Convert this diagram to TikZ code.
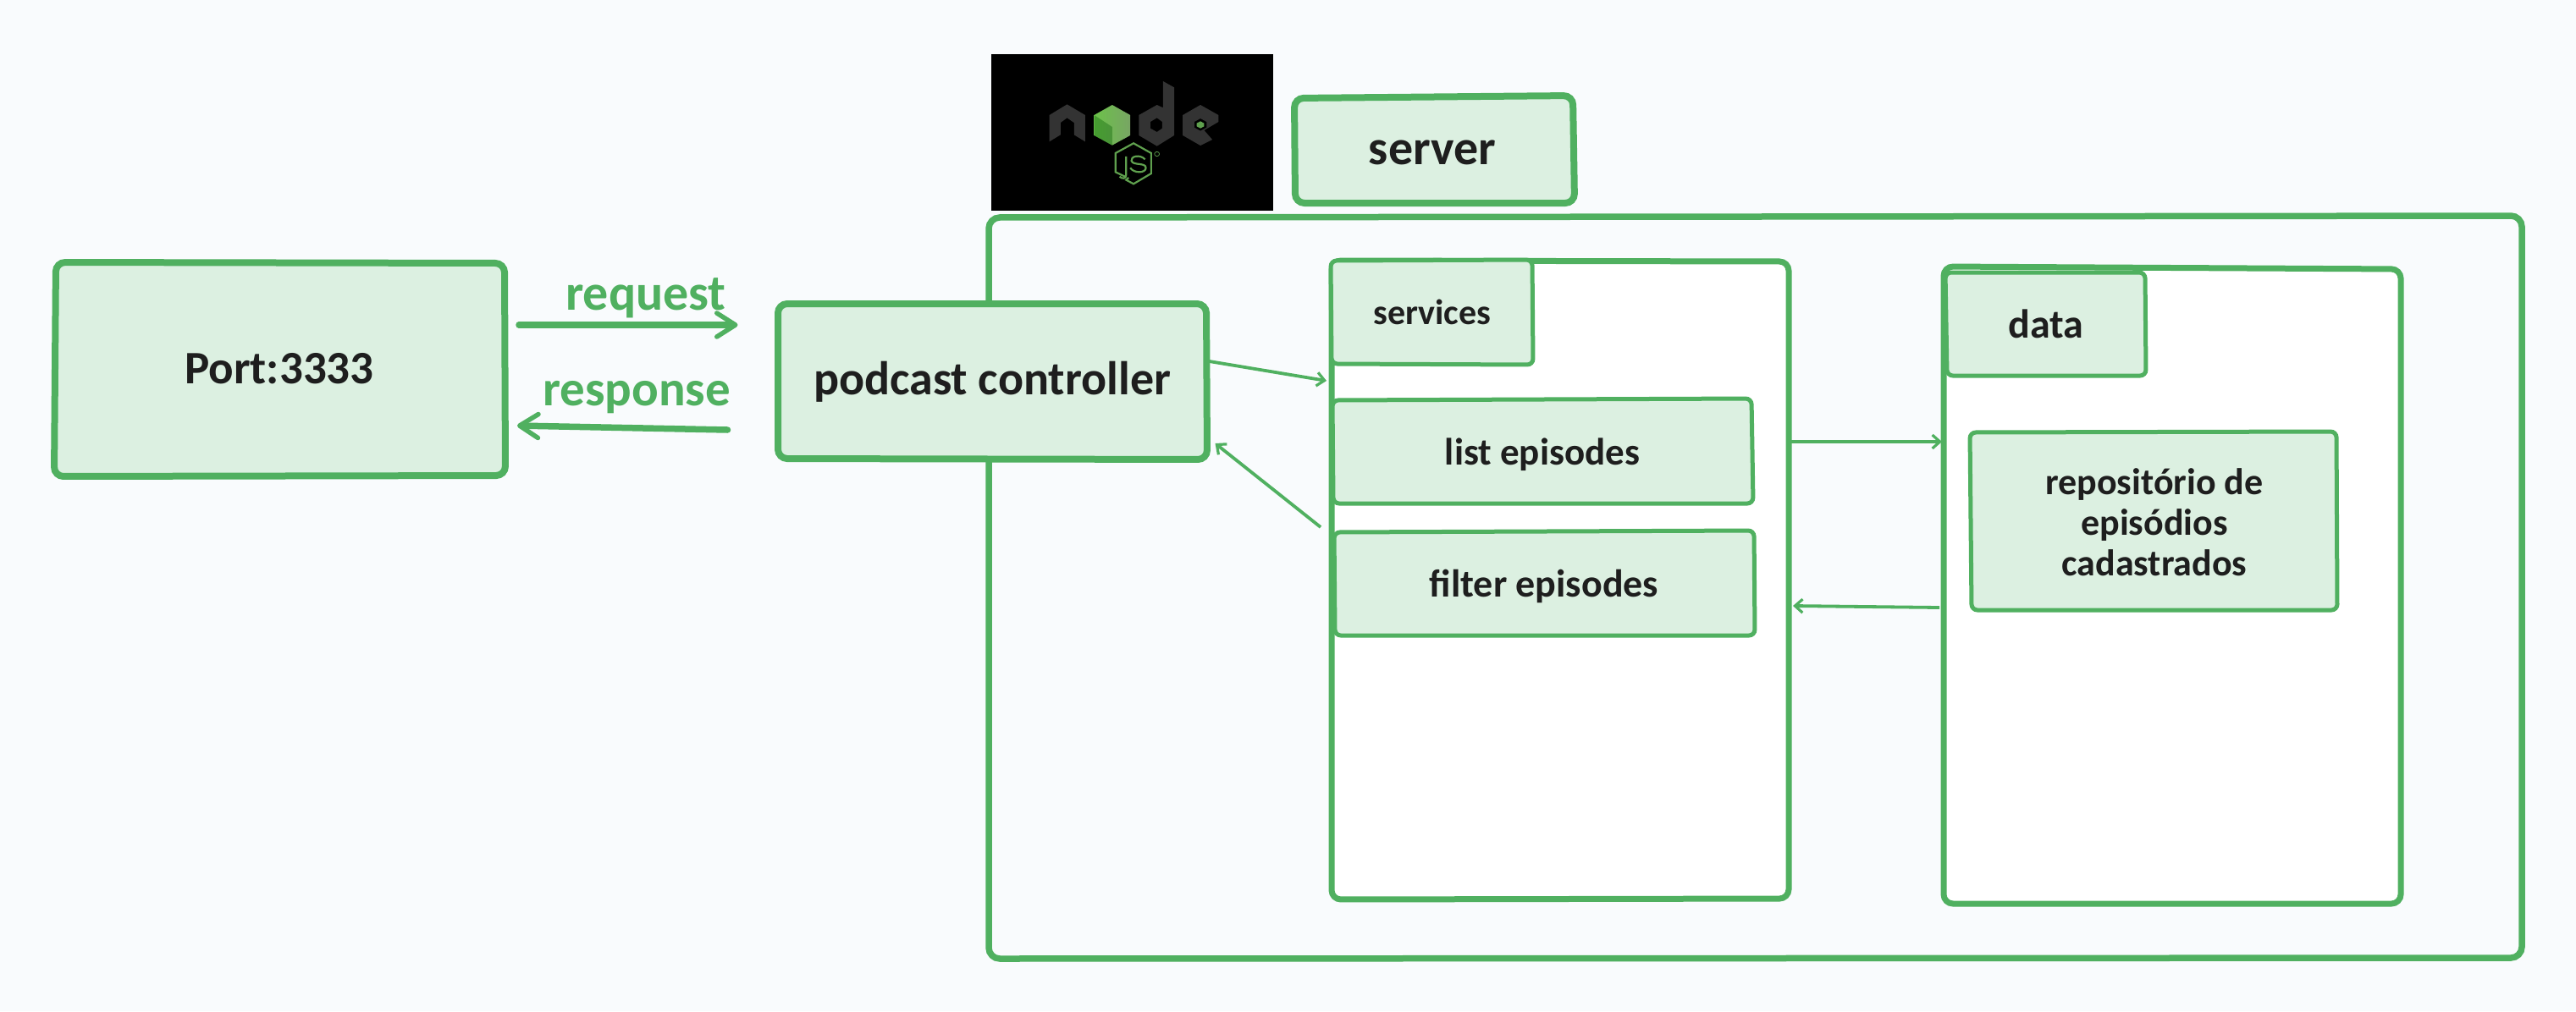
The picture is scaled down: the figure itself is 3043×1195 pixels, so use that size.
\documentclass[tikz,border=0pt]{standalone}
\usepackage{fontspec}
\usetikzlibrary{arrows.meta,calc}
\setmainfont{Carlito}[BoldFont=Carlito Bold]
\definecolor{bgc}{RGB}{249,251,253}
\definecolor{grn}{RGB}{80,176,96}
\definecolor{pale}{RGB}{220,240,225}
\definecolor{ink}{RGB}{30,30,30}
\definecolor{nodegrey}{RGB}{51,51,51}
\definecolor{jsgreen}{RGB}{95,160,78}
\definecolor{hexlight}{RGB}{108,194,74}
\definecolor{hexmid}{RGB}{120,165,100}
\tikzset{
  heavy/.style={draw=grn,line width=8pt,rounded corners=11pt,fill=pale},
  light/.style={draw=grn,line width=5pt,rounded corners=7pt,fill=pale},
  tray/.style={draw=grn,line width=7pt,rounded corners=11pt,fill=white},
  hit/.style={inner sep=0pt,outer sep=0pt,text=ink,font=\bfseries\fontsize{#1}{48}\selectfont,align=center},
  hit/.default=44,
  sized/.style 2 args={minimum width=#1,minimum height=#2},
  tag/.style={inner sep=0pt,text=grn,font=\bfseries\fontsize{#1}{50}\selectfont},
  bigarrow/.style={draw=grn,line width=7.5pt,line cap=round,-{Straight Barb[length=22pt,width=28pt,line width=5.5pt,round]}},
  thinarrow/.style={draw=grn,line width=3.8pt,-{Straight Barb[length=9pt,width=16pt,line width=3.2pt]}},
}
\begin{document}
\begin{tikzpicture}[x=1pt,y=-1pt]
\useasboundingbox (0,0) rectangle (3043,1195);
\fill[bgc] (0,0) rectangle (3043,1195);

% outer server frame
\draw[draw=grn,line width=7.5pt,rounded corners=13pt] (1168,257) -- (2979,255) -- (2979,1132) -- (1168,1133) -- cycle;
\node[hit,sized={1814pt}{882pt}] (srv) at (2073,693) {};

% node.js logo
\fill[black] (1171,64) rectangle (1504,249);
\begin{scope}[shift={(1150,50)},xscale=0.4847,yscale=0.3333]
  \fill[nodegrey] (185,258) -- (228,220) -- (272,258) -- (272,352) -- (245,328) -- (245,285) -- (228,268) -- (212,285) -- (212,328) -- (185,352) -- cycle;
  \fill[nodegrey,even odd rule] (462,138) -- (489,160) -- (489,330) -- (447,368) -- (403,330) -- (403,258) -- (447,222) -- (462,232) -- cycle
     (447,268) -- (460,282) -- (460,305) -- (447,318) -- (431,305) -- (431,282) -- cycle;
  \fill[nodegrey,even odd rule] (510,258) -- (553,222) -- (597,258) -- (597,282) -- (562,312) -- (582,345) -- (553,366) -- (510,330) -- cycle
     (553,270) -- (568,282) -- (568,302) -- (553,314) -- (538,302) -- (538,282) -- cycle;
  \fill[jsgreen] (553,280) -- (562,287) -- (562,298) -- (553,305) -- (544,298) -- (544,287) -- cycle;
  \shade[left color=hexlight,right color=hexmid] (338,222) -- (382,258) -- (382,330) -- (338,365) -- (294,330) -- (294,258) -- cycle;
  \fill[green!35!black,opacity=.35] (294,330) -- (338,365) -- (338,300) -- (294,258) -- cycle;
  \draw[jsgreen,line width=2.2pt] (372,478) -- (346,460) -- (346,393) -- (390,358) -- (433,393) -- (433,465) -- (390,502) -- (372,488) -- (378,480);
  \draw[jsgreen,line width=2.2pt] (372,405) -- (372,470) .. controls (372,485) and (362,485) .. (356,476);
  \draw[jsgreen,line width=2.2pt] (418,415) .. controls (405,395) and (382,405) .. (385,420) .. controls (388,438) and (420,425) .. (420,445) .. controls (420,465) and (390,465) .. (382,445);
  \draw[jsgreen,line width=.7pt] (447,396) ellipse (6 and 8);
\end{scope}

% server label
\draw[heavy] (1529,116) -- (1858,113) -- (1860,240) -- (1530,240) -- cycle;
\node[hit=58,sized={332pt}{130pt}] (server) at (1692,180) {server};

% service tray
\draw[tray] (1573,308) -- (2113,309) -- (2113,1062) -- (1573,1063) -- cycle;
\node[hit,sized={546pt}{760pt}] (svc) at (1843,684) {};
\draw[light] (1572,308) -- (1810,307) -- (1811,431) -- (1573,430) -- cycle;
\node[hit=42,sized={240pt}{126pt}] (svclabel) at (1692,369) {services};
\draw[light] (1574,473) -- (2069,471) -- (2071,595) -- (1575,595) -- cycle;
\node[hit=45,sized={498pt}{126pt}] (list) at (1822,537) {list episodes};
\draw[light] (1576,629) -- (2072,627) -- (2073,751) -- (1577,751) -- cycle;
\node[hit=46,sized={498pt}{126pt}] (filter) at (1824,693) {filter episodes};

% data tray
\draw[tray] (2296,315) -- (2836,318) -- (2836,1068) -- (2296,1068) -- cycle;
\node[hit,sized={542pt}{756pt}] (dat) at (2565,691) {};
\draw[light] (2298,322) -- (2534,322) -- (2535,444) -- (2300,444) -- cycle;
\node[hit=48,sized={238pt}{124pt}] (datlabel) at (2417,383) {data};
\draw[light] (2327,511) -- (2760,510) -- (2761,721) -- (2329,721) -- cycle;
\node[hit,sized={434pt}{210pt}] (repo) at (2545,617) {repositório de\\episódios\\cadastrados};

% port and controller
\draw[heavy] (66,310) -- (596,311) -- (597,562) -- (64,563) -- cycle;
\node[hit=55,sized={532pt}{256pt}] (port) at (330,436) {Port:3333};
\draw[heavy] (919,359) -- (1425,359) -- (1426,543) -- (919,542) -- cycle;
\node[hit=56,sized={507pt}{186pt}] (ctrl) at (1172,451) {podcast controller};

% connectors
\draw[bigarrow] ($(port.east)+(17,-52)$) -- ($(ctrl.west)+(-47,-67)$);
\draw[bigarrow] ($(ctrl.west)+(-59,57)$) -- ($(port.east)+(15,67)$);
\draw[thinarrow] ($(ctrl.east)+(3,-24)$) -- ($(svc.west)+(-3,-234)$);
\draw[thinarrow] ($(svc.west)+(-10,-61)$) -- ($(ctrl.east)+(10,73)$);
\draw[thinarrow] ($(svc.east)+(0,-162)$) -- ($(dat.west)+(0,-169)$);
\draw[thinarrow] ($(dat.west)+(-3,27)$) -- ($(svc.east)+(2,32)$);

% connector labels
\node[tag=60] (request) at (763,352) {request};
\node[tag=59] (response) at (752,470) {response};
\end{tikzpicture}
\end{document}
